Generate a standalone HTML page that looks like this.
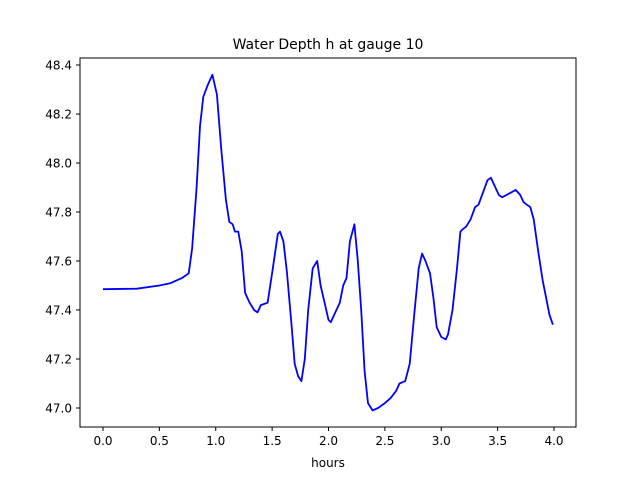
<!DOCTYPE html>
<html><head><meta charset="utf-8"><style>
body{margin:0;background:#fff;}
svg text{font-family:"DejaVu Sans","Liberation Sans",sans-serif;fill:#000;}
</style></head><body>
<svg id="chart" width="640" height="480" viewBox="0 0 640 480">
<rect width="640" height="480" fill="#fff"/>
<text x="328" y="49" font-size="14" text-anchor="middle">Water Depth h at gauge 10</text>
<g id="xticks"></g>
<g id="yticks"></g>
<path id="line" fill="none" stroke="#0000ff" stroke-width="1.8" stroke-linejoin="round"/>
<rect x="80" y="58" width="496" height="369" fill="none" stroke="#000" stroke-width="1"/>
<text x="328" y="467" font-size="12" text-anchor="middle">hours</text>
</svg>
<script>
const hours=[0,0.3,0.5,0.6,0.7,0.76,0.79,0.83,0.86,0.89,0.93,0.97,1.01,1.05,1.09,1.12,1.15,1.17,1.2,1.23,1.26,1.3,1.34,1.37,1.4,1.46,1.5,1.55,1.57,1.6,1.63,1.67,1.7,1.73,1.76,1.79,1.82,1.86,1.9,1.93,1.96,2.0,2.02,2.06,2.1,2.13,2.16,2.19,2.23,2.26,2.29,2.32,2.35,2.39,2.44,2.5,2.55,2.6,2.63,2.68,2.72,2.76,2.8,2.83,2.86,2.9,2.93,2.96,3.0,3.04,3.06,3.1,3.14,3.17,3.19,3.22,3.26,3.3,3.33,3.37,3.41,3.44,3.48,3.51,3.54,3.58,3.62,3.66,3.7,3.73,3.76,3.79,3.82,3.86,3.9,3.93,3.96,3.99];
const depth=[47.485,47.487,47.5,47.51,47.53,47.55,47.65,47.9,48.15,48.27,48.32,48.36,48.28,48.05,47.85,47.76,47.75,47.72,47.72,47.64,47.47,47.43,47.4,47.39,47.42,47.43,47.55,47.71,47.72,47.68,47.56,47.35,47.18,47.13,47.11,47.2,47.4,47.57,47.6,47.5,47.44,47.36,47.35,47.39,47.43,47.5,47.53,47.68,47.75,47.6,47.4,47.15,47.02,46.99,47.0,47.02,47.04,47.07,47.1,47.11,47.18,47.38,47.57,47.63,47.6,47.55,47.45,47.33,47.29,47.28,47.3,47.4,47.57,47.72,47.73,47.74,47.77,47.82,47.83,47.88,47.93,47.94,47.9,47.87,47.86,47.87,47.88,47.89,47.87,47.84,47.83,47.82,47.77,47.64,47.52,47.45,47.38,47.34];
const xTicks=[0,0.5,1,1.5,2,2.5,3,3.5,4];
const yTicks=[47.0,47.2,47.4,47.6,47.8,48.0,48.2,48.4];
const NS="http://www.w3.org/2000/svg";
function xs(v){return 103+v*112.75;}
function ys(v){return 408-(v-47.0)*245;}
const xg=document.getElementById('xticks'),yg=document.getElementById('yticks');
xTicks.forEach(t=>{
  const l=document.createElementNS(NS,'line');
  
  
  l.setAttribute('x1',xs(t));l.setAttribute('x2',xs(t));l.setAttribute('y1',427);l.setAttribute('y2',431);l.setAttribute('stroke','#000');
  xg.appendChild(l);
  const tx=document.createElementNS(NS,'text');
  
  
  tx.setAttribute('x',xs(t));tx.setAttribute('y',445);tx.setAttribute('font-size','12');tx.setAttribute('text-anchor','middle');
  tx.textContent=t.toFixed(1);xg.appendChild(tx);
});
yTicks.forEach(t=>{
  const l=document.createElementNS(NS,'line');
  
  
  l.setAttribute('x1',76);l.setAttribute('x2',80);l.setAttribute('y1',ys(t));l.setAttribute('y2',ys(t));l.setAttribute('stroke','#000');
  yg.appendChild(l);
  const tx=document.createElementNS(NS,'text');
  
  
  tx.setAttribute('x',72);tx.setAttribute('y',ys(t)+4.5);tx.setAttribute('font-size','12');tx.setAttribute('text-anchor','end');
  tx.textContent=t.toFixed(1);yg.appendChild(tx);
});
document.getElementById('line').setAttribute('d',hours.map((h,i)=>(i?'L':'M')+xs(h).toFixed(1)+','+ys(depth[i]).toFixed(1)).join(''));
</script>
</body></html>
